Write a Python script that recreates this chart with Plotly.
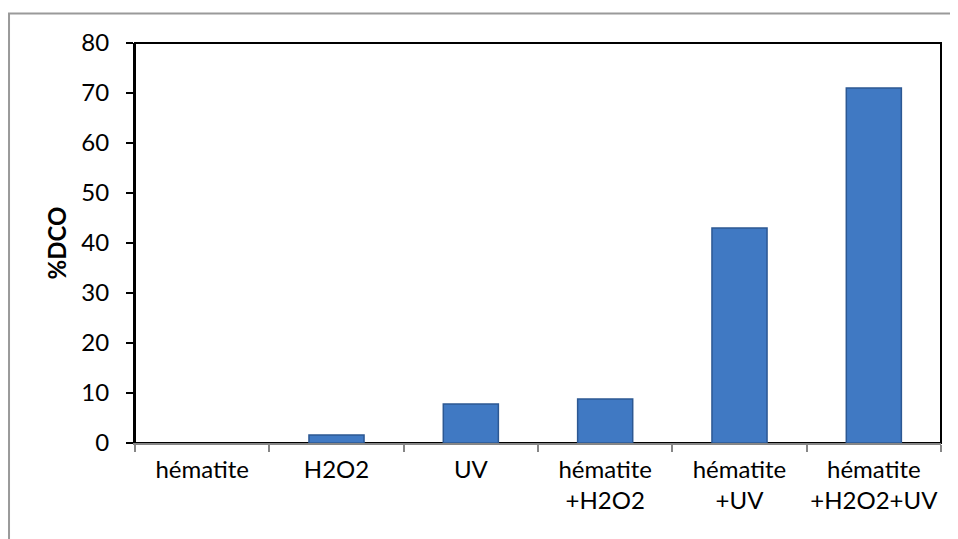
import plotly.graph_objects as go

categories = ["hématite", "H2O2", "UV", "hématite<br>+H2O2", "hématite<br>+UV", "hématite<br>+H2O2+UV"]
dco = [0, 1.6, 7.8, 8.8, 43, 71]
y_ticks = [0, 10, 20, 30, 40, 50, 60, 70, 80]

FONT = "Lato"

# no outline on empty bars
line_w = [0 if v == 0 else 1.5 for v in dco]

fig = go.Figure()
fig.add_trace(go.Bar(
    x=categories, y=dco,
    marker=dict(color="#4079c3", line=dict(color="#2c5893", width=line_w)),
    hoverinfo="x+y",
))

# page body adds ~8px margin, so the figure is a bit smaller than the window
fig.update_layout(
    width=950, height=531,
    margin=dict(l=127, r=17, t=35, b=96),
    paper_bgcolor="white", plot_bgcolor="white",
    bargap=0.59,
    showlegend=False,
    font=dict(family=FONT, size=24, color="black"),
    shapes=[
        # plot area frame
        dict(type="rect", xref="paper", yref="paper", x0=0, x1=1, y0=0, y1=1,
             line=dict(color="black", width=2), layer="below"),
        # outer chart border
        dict(type="rect", xref="paper", yref="paper",
             x0=-0.1563, x1=1.05, y0=-0.3, y1=1.0738,
             line=dict(color="#9a9a9a", width=2), layer="below"),
    ],
)

fig.update_xaxes(
    type="category",
    showline=True, linecolor="#868686", linewidth=2,
    ticks="outside", tickson="boundaries", ticklen=7, tickcolor="#868686", tickwidth=2,
    ticklabelstandoff=4, tickangle=0, automargin=False,
    showgrid=False, zeroline=False,
)
fig.update_yaxes(
    range=[0, 80], tickvals=y_ticks,
    showline=True, linecolor="black", linewidth=2,
    ticks="outside", ticklen=7, tickcolor="black", tickwidth=2,
    ticklabelstandoff=12, automargin=False,
    showgrid=False, zeroline=False,
    title=dict(text="<b>%DCO</b>", font=dict(family=FONT, size=24), standoff=8),
)

fig.write_html("out.html")
